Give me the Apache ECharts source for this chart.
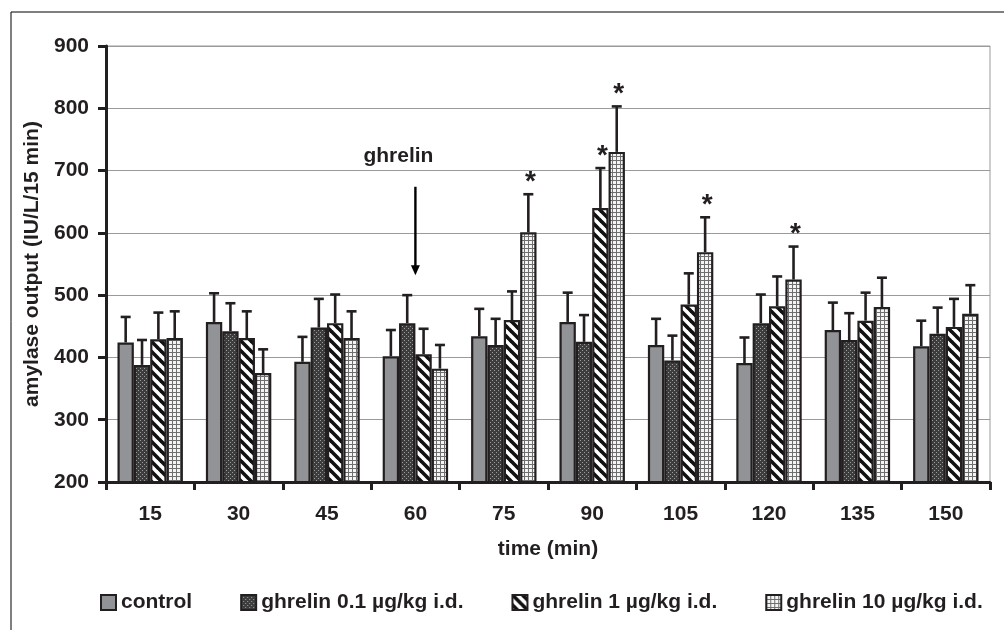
<!DOCTYPE html>
<html>
<head>
<meta charset="utf-8">
<title>amylase output</title>
<script src="https://cdn.jsdelivr.net/npm/echarts@6/dist/echarts.min.js"></script>
<style>
  html, body { margin: 0; padding: 0; background: #fff; }
  #main { width: 1004px; height: 630px; }
</style>
</head>
<body>
<div id="main"></div>
<script>
// time points (min)
var categories = ['15', '30', '45', '60', '75', '90', '105', '120', '135', '150'];

// y axis range
var yMin = 200, yMax = 900, yStep = 100;

// means
var control = [424, 457, 393, 402, 434, 457, 420, 391, 444, 418];
var ghr01 = [388, 442, 448, 455, 420, 425, 395, 455, 428, 438];
var ghr1 = [429, 431, 455, 405, 460, 640, 485, 482, 459, 449];
var ghr10 = [431, 375, 431, 382, 601, 730, 569, 525, 481, 470];

// SEM (upper whisker only)
var controlErr = [41, 46, 40, 42, 44, 47, 42, 41, 44, 41];
var ghr01Err = [40, 45, 46, 45, 42, 43, 40, 46, 43, 42];
var ghr1Err = [43, 43, 46, 41, 46, 64, 50, 48, 45, 45];
var ghr10Err = [43, 38, 43, 38, 61, 73, 56, 53, 47, 46];

// significant points (*)
var controlSig = [];
var ghr01Sig = [];
var ghr1Sig = ['90'];
var ghr10Sig = ['75', '90', '105', '120'];

var seriesNames = ['control', 'ghrelin 0.1 µg/kg i.d.', 'ghrelin 1 µg/kg i.d.', 'ghrelin 10 µg/kg i.d.'];

// ghrelin arrow: category, from, to, label value
var arrowAt = '60', arrowFrom = 674, arrowTo = 532, arrowLabelAt = 723;

var FONT = '"Liberation Sans", Arial, sans-serif';
var INK = '#231f20';
var GAP = 0.26;

// --- fill patterns ---
function makeTile(w, h, draw) {
    var c = document.createElement('canvas');
    c.width = w; c.height = h;
    draw(c.getContext('2d'));
    return { image: c, repeat: 'repeat' };
}

var dotFill = makeTile(4, 4, function (ctx) {
    ctx.fillStyle = '#3d3d3d';
    ctx.fillRect(0, 0, 4, 4);
    ctx.fillStyle = '#9c9c9c';
    ctx.fillRect(0, 0, 1, 1);
    ctx.fillRect(2, 2, 1, 1);
});

var stripeFill = makeTile(10, 10, function (ctx) {
    ctx.fillStyle = '#fff';
    ctx.fillRect(0, 0, 10, 10);
    ctx.strokeStyle = '#111';
    ctx.lineWidth = 3.6;
    [-10, 0, 10].forEach(function (o) {
        ctx.beginPath();
        ctx.moveTo(o - 1, -1);
        ctx.lineTo(o + 11, 11);
        ctx.stroke();
    });
});

var gridFill = makeTile(4, 4, function (ctx) {
    ctx.fillStyle = '#f4f4f4';
    ctx.fillRect(0, 0, 4, 4);
    ctx.fillStyle = '#6e6e6e';
    ctx.fillRect(0, 0, 4, 1);
    ctx.fillRect(0, 0, 1, 4);
});

var fills = ['#929397', dotFill, stripeFill, gridFill];
var means = [control, ghr01, ghr1, ghr10];
var errs = [controlErr, ghr01Err, ghr1Err, ghr10Err];
var sigs = [controlSig, ghr01Sig, ghr1Sig, ghr10Sig];

function errRender(k) {
    return function (params, api) {
        var x = api.value(0), m = api.value(1), e = api.value(2), s = api.value(3);
        var base = api.coord([x, m]);
        var top = api.coord([x, m + e]);
        var band = api.size([1, 0])[0];
        var barW = band * (1 - GAP) / 4;
        var cx = base[0] - band * (1 - GAP) / 2 + (k + 0.5) * barW;
        var style = { stroke: INK, lineWidth: 2.6 };
        var children = [
            { type: 'line', shape: { x1: cx, y1: base[1], x2: cx, y2: top[1] }, style: style },
            { type: 'line', shape: { x1: cx - 5, y1: top[1], x2: cx + 5, y2: top[1] }, style: style }
        ];
        if (s) {
            children.push({
                type: 'text',
                style: {
                    text: '*', x: cx + 2, y: top[1] - 12,
                    fill: INK, font: 'bold 28px ' + FONT,
                    align: 'center', verticalAlign: 'middle'
                }
            });
        }
        return { type: 'group', children: children };
    };
}

var series = [];
for (var k = 0; k < 4; k++) {
    series.push({
        name: seriesNames[k],
        type: 'bar',
        data: means[k],
        barGap: 0,
        barCategoryGap: (GAP * 100) + '%',
        itemStyle: { color: fills[k], borderColor: INK, borderWidth: 2.2 },
        emphasis: { disabled: true },
        animation: false
    });
}
for (var k2 = 0; k2 < 4; k2++) {
    series.push({
        type: 'custom',
        renderItem: errRender(k2),
        data: categories.map(function (c, i) {
            return [i, means[k2][i], errs[k2][i], sigs[k2].indexOf(c) >= 0 ? 1 : 0];
        }),
        z: 5,
        silent: true,
        animation: false
    });
}
// arrow annotation
series.push({
    type: 'custom',
    silent: true,
    animation: false,
    z: 6,
    data: [[categories.indexOf(arrowAt), arrowFrom, arrowTo, arrowLabelAt]],
    renderItem: function (params, api) {
        var p1 = api.coord([api.value(0), api.value(1)]);
        var p2 = api.coord([api.value(0), api.value(2)]);
        var pl = api.coord([api.value(0), api.value(3)]);
        return {
            type: 'group',
            children: [
                { type: 'line', shape: { x1: p1[0], y1: p1[1], x2: p2[0], y2: p2[1] - 8 },
                  style: { stroke: '#000', lineWidth: 2.4 } },
                { type: 'polygon', shape: { points: [[p2[0] - 4.5, p2[1] - 10], [p2[0] + 4.5, p2[1] - 10], [p2[0], p2[1]]] },
                  style: { fill: '#000' } },
                { type: 'text', style: { text: 'ghrelin', x: pl[0] - 17, y: pl[1], fill: INK,
                  font: 'bold 21px ' + FONT, align: 'center', verticalAlign: 'middle' } }
            ]
        };
    }
});

var chart = echarts.init(document.getElementById('main'), null, { renderer: 'canvas' });
chart.setOption({
    animation: false,
    backgroundColor: '#fff',
    textStyle: { fontFamily: FONT },
    grid: {
        left: 106, right: 14, top: 46, bottom: 148,
        show: true, borderColor: '#9a9a9a', borderWidth: 1, backgroundColor: 'transparent'
    },
    legend: {
        data: seriesNames,
        left: 95,
        top: 587,
        icon: 'rect',
        itemWidth: 15,
        itemHeight: 15,
        itemGap: 48,
        itemStyle: { borderColor: INK, borderWidth: 2 },
        textStyle: { fontSize: 21, fontWeight: 'bold', color: INK, fontFamily: FONT }
    },
    xAxis: {
        type: 'category',
        data: categories,
        name: 'time (min)',
        nameLocation: 'middle',
        nameGap: 57,
        nameTextStyle: { fontSize: 21, fontWeight: 'bold', color: INK },
        axisLine: { lineStyle: { color: INK, width: 3 } },
        axisTick: { show: true, alignWithLabel: false, length: 8, lineStyle: { color: INK, width: 3 } },
        axisLabel: { fontSize: 21, fontWeight: 'bold', color: INK, margin: 22 },
        splitLine: { show: false }
    },
    yAxis: {
        type: 'value',
        min: yMin,
        max: yMax,
        interval: yStep,
        name: 'amylase output (IU/L/15 min)',
        nameLocation: 'middle',
        nameGap: 62,
        nameRotate: 90,
        nameTextStyle: { fontSize: 21, fontWeight: 'bold', color: INK },
        axisLine: { show: true, lineStyle: { color: INK, width: 3 } },
        axisTick: { show: true, length: 8, lineStyle: { color: INK, width: 3 } },
        axisLabel: { fontSize: 21, fontWeight: 'bold', color: INK, margin: 17 },
        splitLine: { show: true, lineStyle: { color: '#9a9a9a', width: 1 } }
    },
    graphic: [{
        type: 'rect',
        shape: { x: 11, y: 12, width: 1100, height: 700 },
        style: { fill: 'none', stroke: '#000', lineWidth: 1 },
        silent: true
    }],
    series: series
});
</script>
</body>
</html>
